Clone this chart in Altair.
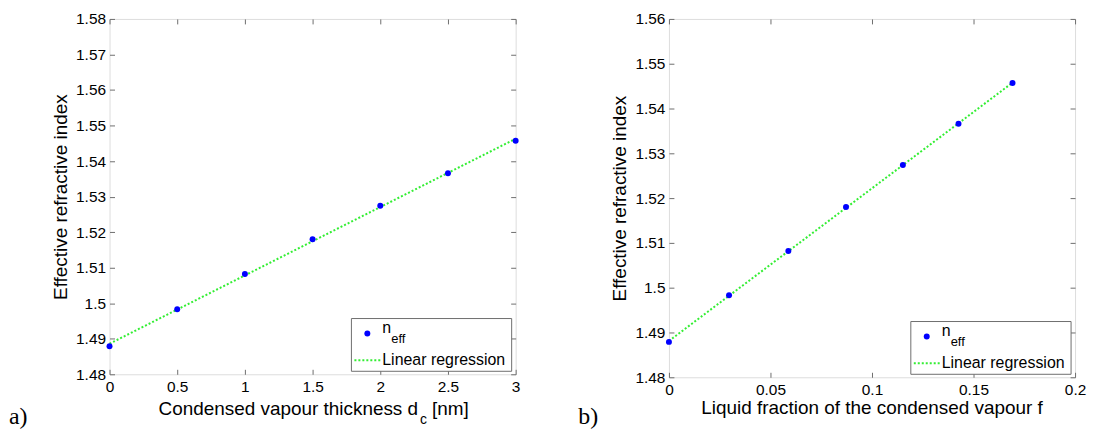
import altair as alt
import pandas as pd

# ---- data ----
d_c = [0, 0.5, 1, 1.5, 2, 2.5, 3]
f_liq = [0, 0.0296, 0.0588, 0.0872, 0.1152, 0.1426, 0.1692]
n_eff = [1.4879, 1.4983, 1.5082, 1.5180, 1.5274, 1.5366, 1.5457]

x_ticks_a = [0, 0.5, 1, 1.5, 2, 2.5, 3]
y_ticks_a = [1.48, 1.49, 1.50, 1.51, 1.52, 1.53, 1.54, 1.55, 1.56, 1.57, 1.58]
x_ticks_b = [0, 0.05, 0.1, 0.15, 0.2]
y_ticks_b = [1.48, 1.49, 1.50, 1.51, 1.52, 1.53, 1.54, 1.55, 1.56]

SANS = "Liberation Sans"
SERIF = "Liberation Serif"
AX = "#6e6e6e"
GREEN = "#33ee33"
BLUE = "#0000ff"


def panel(xs, xdom, xticks, xfmt, ydom, yticks, W, H, letter, letter_x, letter_y, title_layers):
    df = pd.DataFrame({"x": xs, "n": n_eff})
    base = alt.Chart(df)
    xsc = alt.Scale(domain=xdom, nice=False, zero=False)
    ysc = alt.Scale(domain=ydom, nice=False, zero=False)
    common = dict(grid=False, domain=False, ticks=True, tickSize=5, offset=-5,
                  tickColor=AX, tickWidth=1)
    line = base.transform_regression("x", "n").mark_line(
        color=GREEN, strokeDash=[2, 2], strokeWidth=2
    ).encode(
        x=alt.X("x:Q", scale=xsc, axis=alt.Axis(orient="top", values=xticks, labels=False,
                                                 title=None, **common)),
        y=alt.Y("n:Q", scale=ysc, axis=alt.Axis(orient="right", values=yticks, labels=False,
                                                 title=None, **common)),
    )
    pts = base.mark_circle(color=BLUE, size=36, opacity=1).encode(
        x=alt.X("x:Q", scale=xsc, axis=alt.Axis(
            orient="bottom", values=xticks, format=xfmt, labelFont=SANS, labelFontSize=15.5,
            labelColor="black", labelPadding=5, labelFlush=False, labelOverlap=False,
            title=None, **common)),
        y=alt.Y("n:Q", scale=ysc, axis=alt.Axis(
            orient="left", values=yticks, labelExpr="format(datum.value, '.2~f')",
            labelFont=SANS, labelFontSize=15.5, labelColor="black", labelPadding=4,
            labelOverlap=False, title="Effective refractive index", titleFont=SANS,
            titleFontSize=19, titleFontWeight="normal", titleColor="black", titlePadding=5,
            **common)),
    )
    one = alt.Chart(alt.Data(values=[{"k": 0}]))
    box = one.mark_rect(fill="white", stroke=AX, strokeWidth=1).encode(
        x=alt.value(W - 165), x2=alt.value(W - 4), y=alt.value(H - 56), y2=alt.value(H - 3))
    dot = one.mark_circle(color=BLUE, size=36, opacity=1).encode(
        x=alt.value(W - 149), y=alt.value(H - 41))
    n_txt = one.mark_text(text="n", align="left", baseline="alphabetic", font=SANS,
                          fontSize=16, color="black").encode(
        x=alt.value(W - 134), y=alt.value(H - 41))
    eff_txt = one.mark_text(text="eff", align="left", baseline="alphabetic", font=SANS,
                            fontSize=13, color="black").encode(
        x=alt.value(W - 125), y=alt.value(H - 31))
    samp = one.mark_rule(color=GREEN, strokeDash=[2, 2], strokeWidth=2).encode(
        x=alt.value(W - 162), x2=alt.value(W - 135), y=alt.value(H - 14))
    lin_txt = one.mark_text(text="Linear regression", align="left", baseline="middle",
                            font=SANS, fontSize=16, color="black").encode(
        x=alt.value(W - 134), y=alt.value(H - 14))
    let = one.mark_text(text=letter, align="left", baseline="alphabetic", font=SERIF,
                        fontSize=24, color="black").encode(
        x=alt.value(letter_x), y=alt.value(letter_y))
    titles = [one.mark_text(text=t, align=a, baseline="alphabetic", font=SANS,
                            fontSize=fs, color="black").encode(x=alt.value(tx), y=alt.value(ty))
              for (t, a, fs, tx, ty) in title_layers]
    ch = alt.layer(line, pts, box, dot, n_txt, eff_txt, samp, lin_txt, let, *titles).resolve_scale(
        x="independent", y="independent").properties(width=W, height=H)
    return ch


WA, HA = 408, 357
WB, HB = 408, 360

left = panel(d_c, [0, 3], x_ticks_a, ".1~f", [1.48, 1.58], y_ticks_a, WA, HA,
             "a)", -101, HA + 50,
             [("Condensed vapour thickness d", "right", 19, 310, HA + 41),
              ("c", "left", 14, 312, HA + 50),
              ("[nm]", "left", 19, 324, HA + 41)])
right = panel(f_liq, [0, 0.2], x_ticks_b, ".2~f", [1.48, 1.56], y_ticks_b, WB, HB,
              "b)", -91, HB + 47,
              [("Liquid fraction of the condensed vapour f", "center", 19, WB / 2, HB + 37)])

chart = alt.hconcat(left, right, spacing=154, bounds="flush").properties(
    padding={"left": 0, "top": 2, "right": 0, "bottom": 0}
).configure_view(stroke=AX, strokeWidth=1).configure(background="white")

chart.save("out.html", embed_options={"renderer": "svg", "actions": False})
